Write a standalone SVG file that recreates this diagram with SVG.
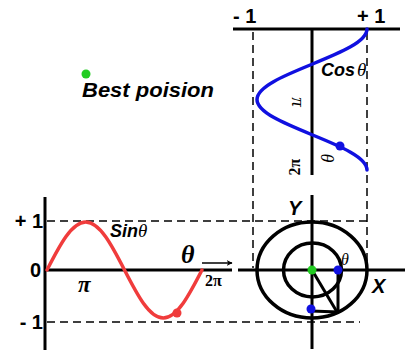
<svg xmlns="http://www.w3.org/2000/svg" width="405" height="350" viewBox="0 0 405 350">
<style>
.ax{stroke:#000;stroke-width:3;fill:none}
.dash{stroke:#000;stroke-width:1.5;stroke-dasharray:8 5;fill:none}
.lbl{font-family:"Liberation Sans",Arial,sans-serif;font-weight:bold;fill:#000}
.it{font-family:"Liberation Sans",Arial,sans-serif;font-weight:bold;font-style:italic;fill:#000}
.gr{font-family:"Liberation Serif","Times New Roman",serif;font-style:italic;fill:#000}
.grb{font-family:"Liberation Serif","Times New Roman",serif;font-weight:bold;fill:#000}
</style>
<defs>
<marker id="ah" viewBox="0 0 10 10" refX="9" refY="5" markerWidth="6" markerHeight="6" orient="auto" markerUnits="userSpaceOnUse">
<path d="M0,0 L10,5 L0,10 L3,5 Z" fill="#000"/>
</marker>
</defs>
<rect width="405" height="350" fill="#fff"/>
<g id="connectors">
<line class="dash" x1="253" y1="32" x2="253" y2="268"/>
<line class="dash" x1="367" y1="32" x2="367" y2="266"/>
<line class="dash" x1="47" y1="221" x2="372" y2="221"/>
<line class="dash" x1="47" y1="322" x2="360" y2="322"/>
<line class="ax" x1="233" y1="29" x2="400" y2="29"/>
<line class="ax" x1="312" y1="29" x2="312" y2="175"/>
<line class="ax" x1="312" y1="195" x2="312" y2="349"/>
<line class="ax" x1="45" y1="197" x2="45" y2="350"/>
<line class="ax" x1="45" y1="270" x2="232" y2="270"/>
<line class="ax" x1="238" y1="270" x2="405" y2="270"/>
<line x1="202" y1="263" x2="232" y2="263" stroke="#000" stroke-width="1.5" marker-end="url(#ah)"/>
</g>
<g id="sine">
<path d="M47,270 C59.64,245.41 71.73,222 85.75,222 C99.77,222 111.86,245.41 124.5,270 C137.14,294.59 149.23,318 163.25,318 C177.27,318 189.36,294.59 202,270" fill="none" stroke="#f03c3c" stroke-width="3.5" stroke-linecap="round"/>
<circle cx="177" cy="313" r="4.5" fill="#f03c3c"/>
</g>
<g id="cosine">
<path d="M367,29 C367,41.76 340.18,52.75 312,64.25 C283.82,75.75 257,86.74 257,99.5 C257,112.26 283.82,123.25 312,134.75 C340.18,146.25 367,157.24 367,170" fill="none" stroke="#1010e0" stroke-width="3.5" stroke-linecap="round"/>
<circle cx="340" cy="146" r="4.5" fill="#1010e0"/>
</g>
<g id="circle">
<ellipse cx="312" cy="270" rx="55" ry="48" fill="none" stroke="#000" stroke-width="3.5"/>
<ellipse cx="312.5" cy="270" rx="29" ry="27" fill="none" stroke="#000" stroke-width="3.5"/>
<line x1="312" y1="270" x2="337" y2="312" stroke="#000" stroke-width="3"/>
<line x1="338" y1="270" x2="338" y2="312" stroke="#000" stroke-width="3"/>
<line x1="311" y1="311" x2="338" y2="312" stroke="#000" stroke-width="3"/>
<circle cx="312" cy="270" r="4.5" fill="#22cc22"/>
<circle cx="338" cy="270" r="4.5" fill="#1010e0"/>
<circle cx="311" cy="309" r="4.5" fill="#1010e0"/>
<text class="gr" x="341" y="265" font-size="16">θ</text>
<text class="it" x="372" y="293" font-size="20">X</text>
<text class="it" x="288" y="215" font-size="20">Y</text>
</g>
<g id="labels">
<text class="lbl" x="233" y="23" font-size="20">- 1</text>
<text class="lbl" x="357" y="23" font-size="20">+ 1</text>
<text class="lbl" x="43" y="228" font-size="20" text-anchor="end">+ 1</text>
<text class="lbl" x="41" y="277" font-size="20" text-anchor="end">0</text>
<text class="lbl" x="43" y="329" font-size="20" text-anchor="end">- 1</text>
<text class="grb" x="78" y="292" font-size="23" font-style="italic">π</text>
<text x="110" y="237" font-size="18"><tspan class="it">Sin</tspan><tspan class="gr" font-size="19">θ</tspan></text>
<text class="grb" x="181" y="263" font-size="26" font-style="italic">θ</text>
<text class="grb" x="205" y="286" font-size="16">2π</text>
<text x="321" y="76" font-size="18"><tspan class="it">Cos</tspan><tspan class="gr" font-size="19" dx="2">θ</tspan></text>
<text class="gr" font-size="19" transform="translate(292,102) rotate(90)" text-anchor="middle">π</text>
<text class="grb" font-size="16" transform="translate(300,167) rotate(-90)" text-anchor="middle">2π</text>
<text class="gr" font-size="18" transform="translate(321,158) rotate(90)" text-anchor="middle">θ</text>
</g>
<g id="best">
<circle cx="86" cy="74" r="4.5" fill="#22cc22"/>
<text class="it" x="82" y="97" font-size="20" textLength="132" lengthAdjust="spacingAndGlyphs">Best poision</text>
</g>
</svg>
